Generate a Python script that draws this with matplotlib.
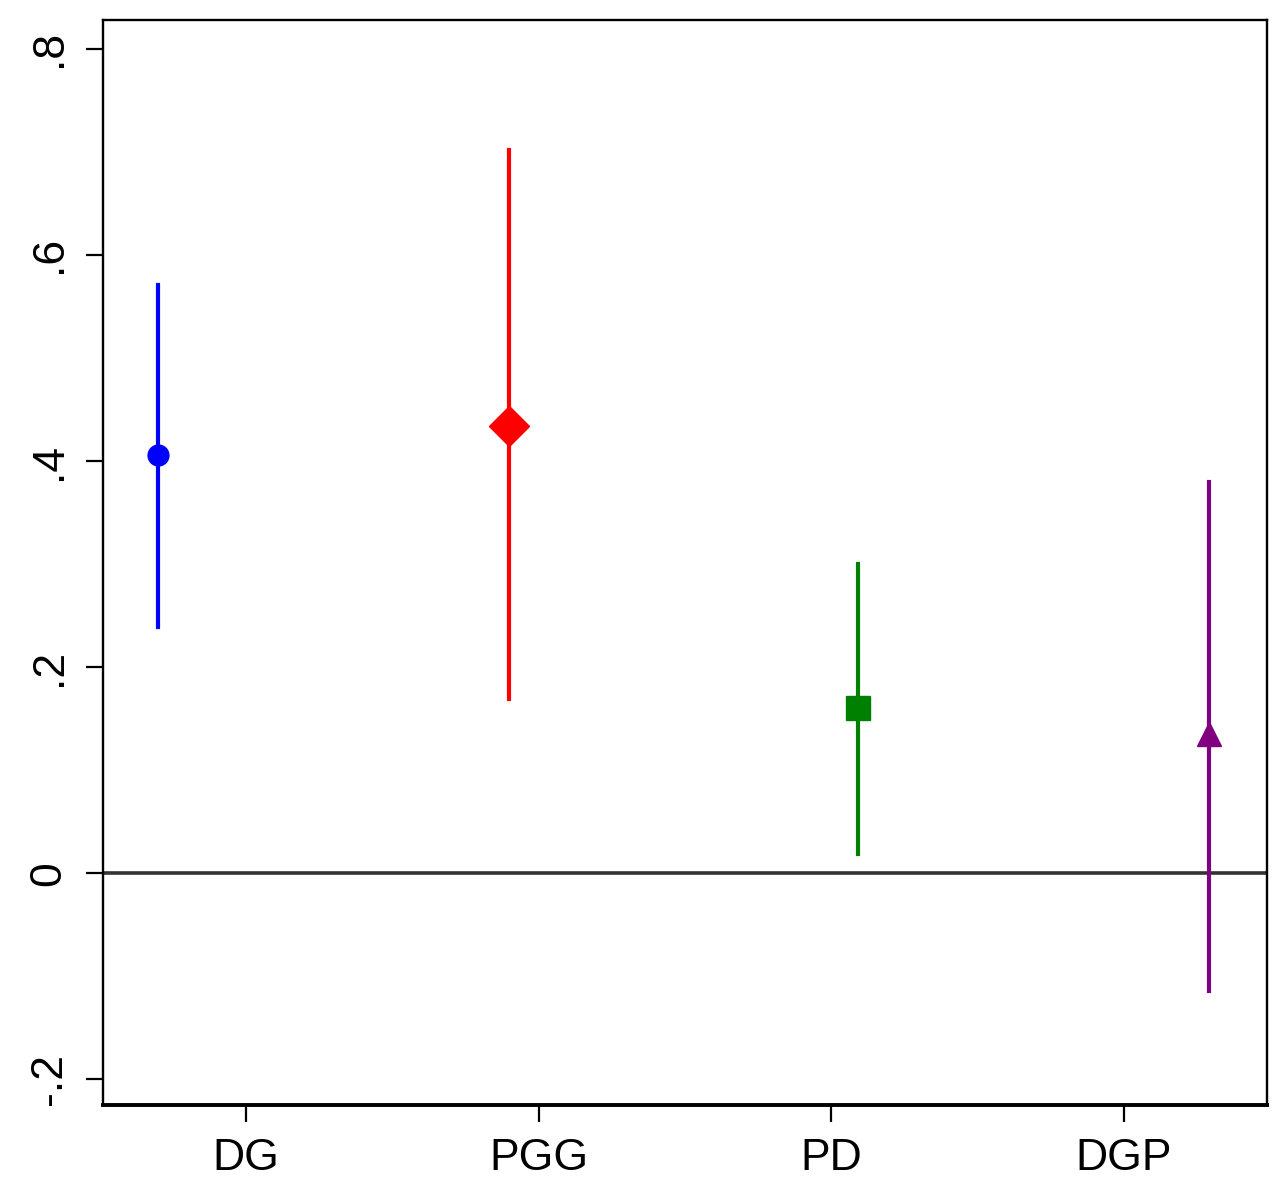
import numpy as np
import matplotlib.pyplot as plt
from matplotlib.ticker import FixedLocator

plt.rcParams['font.family'] = ['Liberation Sans', 'DejaVu Sans']

# games on the x axis, estimates and 95% intervals
games = ['DG', 'PGG', 'PD', 'DGP']
offsets = [-0.30, -0.10, 0.09, 0.29]   # points are drawn beside the tick
coef = [0.406, 0.434, 0.160, 0.135]
ci_low = [0.239, 0.169, 0.019, -0.114]
ci_high = [0.571, 0.702, 0.300, 0.380]
colors = ['#0000ff', '#ff0000', '#008000', '#800080']
markers = ['o', 'D', 's', '^']
msizes = [15, 20, 17, 17]

yticks = [-0.2, 0, 0.2, 0.4, 0.6, 0.8]
ylabels = ['-.2', '0', '.2', '.4', '.6', '.8']

fig = plt.figure(figsize=(12.8, 11.82), dpi=100)
ax = fig.add_axes([0.0805, 0.0651, 0.9095, 0.9180])

# reference line at zero
ax.axhline(0, color='#333333', lw=2.6, zorder=1)

for i, g in enumerate(games):
    x = i + 1 + offsets[i]
    ax.plot([x, x], [ci_low[i], ci_high[i]], color=colors[i], lw=3.0, zorder=2)
    ax.plot(x, coef[i], marker=markers[i], color=colors[i], ms=msizes[i],
            mec=colors[i], ls='none', zorder=3)

ax.set_xlim(0.511, 4.49)
ax.set_ylim(-0.225, 0.828)
ax.set_xticks([1, 2, 3, 4])
ax.set_xticklabels(games)
ax.yaxis.set_major_locator(FixedLocator(yticks))
ax.set_yticklabels(ylabels, rotation=90, va='center')

ax.tick_params(axis='both', length=12, width=1.6, color='black',
               labelsize=32, pad=12)
for side in ['left', 'top', 'right']:
    ax.spines[side].set_linewidth(1.7)
ax.spines['bottom'].set_linewidth(2.8)

fig.savefig('out.png', dpi=100, facecolor='white')
